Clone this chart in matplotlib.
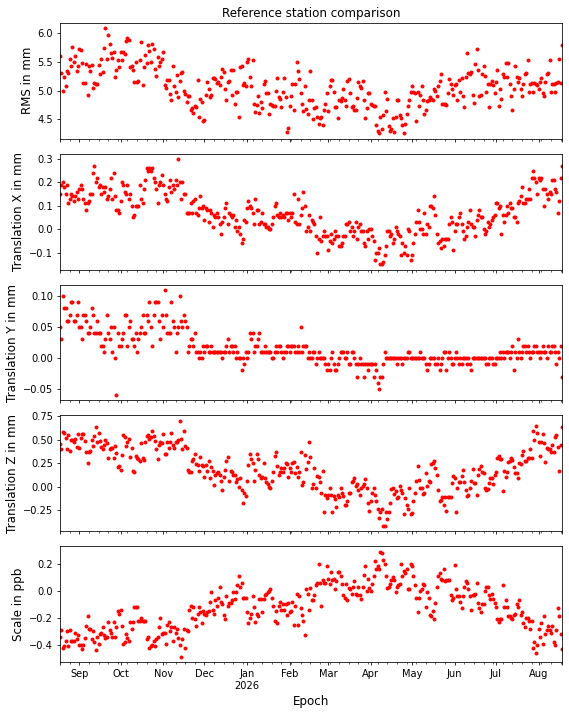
import numpy as np
import pandas as pd
import matplotlib
matplotlib.use('Agg')
import matplotlib.pyplot as plt

# daily values, 2025-08-18 .. 2026-08-18 (one row per month)
rms = [
    5.60, 5.30, 4.99, 5.24, 5.08, 5.34, 5.31, 5.54, 5.42, 5.76, 5.49, 5.59, 5.34, 5.43,
    5.72, 5.70, 5.48, 5.13, 5.13, 5.45, 4.92, 5.42, 5.33, 5.44, 5.04, 5.13, 5.11, 5.12, 5.44, 5.28, 5.55, 5.32, 5.74, 6.08, 5.54, 5.96, 5.80, 5.65, 5.56, 5.66, 5.23, 5.36, 5.52, 5.40,
    5.66, 5.53, 5.66, 5.63, 5.85, 5.90, 5.87, 5.40, 5.43, 5.35, 5.15, 5.49, 5.15, 5.16, 5.52, 5.84, 5.10, 5.40, 5.61, 5.47, 5.78, 5.68, 5.49, 5.80, 5.71, 5.38, 5.25, 5.58, 5.42, 5.49, 5.55,
    5.66, 5.10, 5.05, 5.18, 5.18, 4.94, 4.84, 5.43, 5.08, 4.98, 5.26, 4.89, 5.17, 5.30, 5.32, 5.00, 4.94, 4.80, 4.91, 4.90, 4.67, 4.70, 4.61, 4.73, 4.72, 5.18, 4.55, 4.85, 4.80, 4.48,
    4.49, 4.92, 5.15, 5.03, 4.88, 4.92, 5.22, 5.22, 5.20, 5.13, 5.14, 5.10, 5.23, 5.37, 5.32, 5.03, 4.83, 5.15, 5.16, 5.36, 4.93, 5.35, 4.76, 4.98, 4.97, 4.55, 5.41, 5.42, 5.10, 5.13, 5.08,
    5.50, 5.55, 5.24, 5.08, 5.52, 4.77, 4.63, 4.75, 4.90, 4.62, 4.80, 4.70, 5.12, 5.17, 4.96, 4.95, 4.60, 4.76, 4.75, 4.73, 4.73, 4.99, 5.22, 4.89, 4.85, 4.72, 4.98, 5.22, 4.88, 4.29, 4.36,
    4.74, 4.90, 5.12, 4.67, 5.12, 5.50, 5.33, 5.20, 4.95, 4.76, 4.64, 5.07, 4.68, 4.60, 4.84, 5.33, 4.83, 4.50, 4.70, 4.72, 4.55, 4.42, 4.53, 4.55, 4.40, 4.67, 4.76, 4.95,
    4.64, 5.08, 5.19, 5.19, 4.97, 4.72, 4.72, 4.53, 4.83, 4.82, 4.87, 5.02, 4.84, 4.74, 5.17, 5.20, 4.95, 4.72, 4.74, 4.67, 4.66, 4.87, 5.15, 5.07, 5.05, 5.17, 4.83, 4.52, 4.69, 4.95, 4.95,
    4.76, 4.75, 4.74, 4.73, 4.40, 4.30, 4.26, 4.55, 4.34, 4.57, 4.97, 4.64, 4.86, 4.38, 4.30, 4.33, 4.53, 4.28, 4.55, 4.83, 4.83, 4.58, 4.53, 4.40, 4.26, 4.42, 4.60, 4.73, 4.84, 4.97,
    5.08, 4.97, 4.95, 4.48, 4.97, 4.73, 4.93, 5.07, 4.84, 4.60, 4.66, 4.82, 4.84, 4.88, 4.85, 4.84, 5.02, 5.00, 4.90, 5.08, 5.17, 5.29, 4.76, 4.77, 4.76, 4.75, 4.95, 5.20, 5.12, 5.03, 4.92,
    5.10, 5.11, 4.83, 5.19, 4.98, 5.22, 4.90, 4.72, 5.23, 5.64, 5.31, 5.28, 5.32, 4.92, 4.78, 5.45, 5.72, 5.35, 4.90, 4.93, 5.28, 5.43, 5.25, 4.98, 5.12, 4.72, 5.12, 5.17, 5.10, 4.95,
    5.14, 5.36, 4.74, 5.03, 4.85, 5.29, 5.23, 5.47, 5.24, 5.47, 5.12, 4.90, 4.67, 5.02, 5.43, 5.24, 5.14, 5.22, 5.02, 4.90, 5.12, 5.29, 5.30, 5.53, 4.97, 5.12, 5.13, 4.97, 5.13, 5.12, 5.10,
    5.02, 5.14, 5.22, 4.95, 4.90, 5.14, 5.29, 5.30, 5.53, 4.97, 5.12, 5.12, 4.98, 5.13, 5.14, 5.55, 5.13, 5.79,
]

trans_x = [
    0.15, 0.19, 0.20, 0.18, 0.15, 0.19, 0.11, 0.13, 0.15, 0.14, 0.12, 0.14, 0.16, 0.13,
    0.17, 0.19, 0.17, 0.13, 0.11, 0.08, 0.11, 0.12, 0.15, 0.15, 0.24, 0.27, 0.20, 0.22, 0.18, 0.19, 0.15, 0.18, 0.16, 0.18, 0.13, 0.14, 0.17, 0.22, 0.13, 0.24, 0.14, 0.08, 0.08, 0.07,
    0.12, 0.20, 0.19, 0.16, 0.15, 0.19, 0.13, 0.15, 0.10, 0.05, 0.06, 0.10, 0.10, 0.10, 0.19, 0.13, 0.11, 0.17, 0.21, 0.26, 0.25, 0.26, 0.25, 0.26, 0.22, 0.20, 0.17, 0.11, 0.19, 0.20, 0.23,
    0.19, 0.15, 0.13, 0.12, 0.18, 0.21, 0.16, 0.19, 0.17, 0.21, 0.19, 0.30, 0.20, 0.13, 0.20, 0.15, 0.15, 0.07, 0.07, 0.07, 0.11, 0.07, 0.12, 0.13, 0.07, 0.06, 0.09, 0.14, 0.09, 0.10,
    0.04, 0.09, 0.08, 0.03, 0.08, 0.07, 0.01, 0.06, 0.05, 0.07, 0.05, 0.02, -0.02, 0.03, 0.05, 0.09, 0.11, 0.02, 0.07, 0.06, 0.05, 0.06, 0.01, 0.04, -0.01, 0.01, -0.02, -0.06, -0.04, 0.04, 0.03,
    0.09, 0.12, 0.10, 0.09, 0.07, 0.02, 0.13, 0.08, 0.08, 0.02, 0.03, 0.07, 0.02, 0.02, 0.01, 0.01, 0.00, 0.00, 0.02, 0.05, 0.10, 0.11, 0.06, 0.05, 0.07, 0.05, 0.06, 0.05, 0.07, 0.07, 0.04,
    0.07, 0.05, 0.07, 0.15, 0.03, 0.02, 0.13, 0.02, 0.06, 0.09, 0.16, 0.10, -0.01, 0.01, 0.06, -0.01, 0.04, 0.03, 0.02, -0.03, -0.10, -0.04, 0.05, -0.05, -0.03, -0.01, -0.03, -0.03,
    -0.09, -0.05, -0.02, -0.06, -0.04, -0.01, -0.03, -0.03, -0.07, -0.07, -0.06, -0.03, -0.03, 0.02, 0.02, 0.03, -0.01, 0.01, -0.03, -0.01, 0.03, -0.04, 0.01, 0.02, -0.01, -0.01, -0.06, -0.07, -0.01, -0.04, 0.00,
    0.00, -0.03, -0.05, -0.13, -0.10, -0.10, -0.08, -0.15, -0.15, -0.14, -0.11, -0.07, -0.01, -0.01, -0.03, -0.02, -0.06, -0.04, 0.01, -0.01, -0.02, -0.03, -0.11, -0.06, -0.10, -0.07, -0.11, 0.00, -0.01, -0.13,
    -0.11, -0.06, -0.02, 0.03, 0.08, 0.03, 0.00, 0.00, -0.02, 0.07, -0.02, 0.02, 0.01, 0.10, 0.10, 0.09, 0.14, 0.06, -0.02, -0.06, -0.05, -0.08, -0.04, -0.07, -0.04, -0.04, -0.04, 0.02, 0.05, 0.03, -0.09,
    -0.01, 0.02, 0.02, 0.05, 0.07, 0.02, -0.01, -0.04, -0.03, 0.01, 0.03, 0.08, 0.02, 0.01, 0.01, -0.03, 0.04, 0.06, 0.08, 0.05, 0.05, 0.00, -0.02, -0.01, 0.03, 0.01, 0.02, 0.04, 0.05, 0.06,
    0.11, 0.11, 0.09, 0.10, -0.02, 0.06, 0.03, 0.06, 0.10, 0.07, 0.11, 0.09, 0.09, 0.05, 0.05, 0.03, 0.11, 0.12, 0.14, 0.18, 0.11, 0.11, 0.13, 0.13, 0.17, 0.13, 0.22, 0.25, 0.22, 0.20, 0.15,
    0.22, 0.21, 0.22, 0.17, 0.10, 0.17, 0.15, 0.13, 0.16, 0.15, 0.21, 0.21, 0.17, 0.16, 0.07, 0.12, 0.22, 0.27,
]

trans_y = [
    0.05, 0.03, 0.10, 0.08, 0.08, 0.06, 0.06, 0.07, 0.09, 0.09, 0.06, 0.06, 0.07, 0.09,
    0.05, 0.05, 0.03, 0.07, 0.07, 0.06, 0.04, 0.04, 0.05, 0.08, 0.07, 0.04, 0.04, 0.06, 0.04, 0.04, 0.02, 0.02, 0.01, 0.03, 0.07, 0.04, 0.03, 0.05, 0.01, 0.05, 0.00, -0.06, 0.04, 0.02,
    0.02, 0.03, 0.04, 0.07, 0.07, 0.02, 0.05, 0.06, 0.03, 0.03, 0.02, 0.04, 0.01, 0.03, 0.04, 0.05, 0.07, 0.04, 0.04, 0.07, 0.06, 0.09, 0.05, 0.02, 0.07, 0.09, 0.09, 0.09, 0.06, 0.03, 0.07,
    0.05, 0.11, 0.07, 0.04, 0.04, 0.04, 0.09, 0.06, 0.05, 0.01, 0.04, 0.05, 0.10, 0.06, 0.05, 0.07, 0.06, 0.05, 0.01, 0.02, 0.03, 0.03, 0.02, 0.04, 0.01, 0.01, 0.00, 0.01, 0.00, 0.02,
    0.01, 0.02, 0.02, 0.01, 0.01, 0.02, 0.01, 0.01, 0.01, 0.01, 0.01, 0.01, 0.01, 0.00, 0.01, 0.01, 0.02, 0.03, 0.01, 0.02, 0.02, 0.01, 0.02, 0.00, 0.01, 0.00, 0.00, -0.02, 0.00, -0.01, 0.01,
    0.00, 0.01, 0.04, 0.03, 0.04, 0.01, 0.02, 0.02, 0.03, 0.04, 0.01, 0.01, 0.01, 0.02, 0.01, 0.01, 0.01, 0.01, 0.00, 0.00, 0.01, 0.02, 0.01, 0.02, 0.02, 0.01, 0.00, 0.01, 0.01, 0.02, 0.02,
    0.01, 0.02, 0.02, 0.02, 0.01, 0.01, 0.02, 0.01, 0.05, 0.01, 0.02, 0.02, 0.02, 0.00, 0.01, 0.00, 0.00, 0.01, 0.01, -0.01, 0.00, 0.01, 0.00, 0.00, 0.00, 0.00, -0.01, -0.02,
    -0.01, -0.02, 0.00, 0.01, -0.01, -0.02, -0.02, -0.01, 0.00, 0.01, 0.01, 0.01, 0.00, 0.00, 0.01, -0.01, -0.01, 0.01, 0.01, 0.00, -0.01, -0.03, -0.01, 0.00, -0.01, -0.01, -0.03, -0.01, -0.01, -0.02, -0.01,
    -0.01, -0.01, -0.03, -0.01, -0.02, -0.04, -0.05, -0.03, -0.03, -0.01, 0.01, 0.00, 0.00, 0.00, 0.00, 0.00, 0.00, 0.00, 0.00, -0.01, 0.00, 0.00, 0.00, -0.01, 0.00, 0.00, 0.00, 0.01, 0.01, 0.00,
    0.00, 0.00, 0.00, 0.00, 0.00, 0.00, 0.01, 0.00, 0.00, 0.00, -0.01, -0.02, -0.01, 0.00, 0.00, 0.00, 0.00, -0.01, -0.01, 0.00, -0.02, -0.01, 0.00, 0.01, 0.01, -0.02, 0.00, 0.01, 0.00, -0.01, -0.01,
    0.00, 0.01, 0.00, -0.01, 0.00, -0.01, 0.00, 0.00, 0.00, -0.01, 0.00, -0.01, -0.02, 0.00, 0.00, 0.00, 0.00, 0.00, 0.00, 0.00, 0.00, 0.00, 0.00, -0.01, -0.01, 0.00, 0.00, 0.00, -0.01, -0.01,
    0.00, 0.00, 0.00, 0.01, 0.00, 0.01, 0.00, 0.01, 0.01, 0.01, 0.00, 0.01, 0.02, -0.02, 0.01, 0.00, 0.03, 0.01, 0.00, 0.01, 0.02, 0.02, 0.01, 0.02, 0.01, 0.00, 0.01, 0.01, 0.02, 0.02, 0.01,
    0.01, 0.00, 0.01, 0.02, 0.01, 0.01, 0.00, 0.02, 0.01, 0.01, 0.02, 0.02, 0.01, -0.01, 0.01, 0.00, 0.02, -0.03,
]

trans_z = [
    0.45, 0.40, 0.58, 0.57, 0.52, 0.40, 0.55, 0.38, 0.50, 0.50, 0.47, 0.51, 0.42, 0.56,
    0.41, 0.52, 0.56, 0.56, 0.48, 0.37, 0.25, 0.37, 0.38, 0.50, 0.43, 0.54, 0.63, 0.47, 0.57, 0.48, 0.42, 0.40, 0.44, 0.49, 0.46, 0.30, 0.40, 0.41, 0.41, 0.30, 0.43, 0.36, 0.21, 0.22,
    0.18, 0.34, 0.55, 0.53, 0.43, 0.47, 0.51, 0.31, 0.41, 0.17, 0.16, 0.32, 0.30, 0.29, 0.27, 0.46, 0.30, 0.28, 0.47, 0.54, 0.55, 0.51, 0.53, 0.59, 0.54, 0.48, 0.40, 0.29, 0.44, 0.47, 0.46,
    0.56, 0.35, 0.35, 0.47, 0.41, 0.47, 0.57, 0.44, 0.41, 0.47, 0.47, 0.49, 0.70, 0.51, 0.40, 0.59, 0.43, 0.41, 0.18, 0.16, 0.16, 0.27, 0.29, 0.35, 0.24, 0.23, 0.17, 0.31, 0.23, 0.22,
    0.10, 0.23, 0.17, 0.27, 0.09, 0.21, 0.17, 0.02, 0.12, 0.14, 0.16, 0.12, 0.06, -0.04, 0.10, 0.18, 0.27, 0.31, 0.06, 0.17, 0.15, 0.12, 0.12, 0.05, 0.08, 0.00, 0.09, -0.04, -0.17, -0.07, -0.10,
    0.06, 0.23, 0.35, 0.29, 0.25, 0.06, 0.18, 0.35, 0.29, 0.12, 0.09, 0.10, 0.25, 0.09, 0.05, 0.03, 0.00, -0.01, 0.06, 0.16, 0.33, 0.37, 0.22, 0.12, 0.15, 0.20, 0.15, 0.20, 0.25, 0.24, 0.10,
    0.20, 0.15, 0.25, 0.26, 0.14, 0.21, 0.10, 0.16, 0.37, 0.02, 0.05, 0.34, 0.19, 0.26, 0.47, 0.31, -0.02, 0.03, 0.20, -0.02, 0.11, 0.10, 0.05, -0.07, 0.17, -0.27, -0.09, -0.12,
    -0.09, -0.02, -0.09, -0.27, -0.10, -0.13, -0.22, -0.09, -0.11, -0.02, -0.07, -0.10, -0.20, -0.20, -0.15, -0.07, -0.07, 0.05, 0.06, 0.09, 0.01, 0.03, -0.04, -0.09, -0.02, 0.01, 0.03, 0.08, -0.01, -0.17, -0.26,
    -0.15, -0.07, -0.01, -0.09, -0.15, -0.24, -0.33, -0.27, -0.24, -0.42, -0.42, -0.27, -0.34, -0.27, -0.17, -0.03, -0.02, -0.08, -0.05, -0.12, -0.11, 0.01, -0.04, -0.07, -0.29, -0.12, -0.20, -0.24, -0.02, -0.29,
    -0.28, -0.15, -0.07, 0.06, 0.22, 0.07, -0.02, -0.02, -0.08, -0.07, 0.14, 0.01, 0.06, 0.05, 0.24, 0.25, 0.27, 0.20, 0.12, -0.04, -0.15, -0.14, -0.11, -0.20, -0.11, -0.26, -0.11, -0.11, -0.11, 0.04, 0.11,
    0.09, -0.27, -0.02, 0.05, 0.05, 0.11, 0.18, 0.05, -0.04, -0.10, -0.09, -0.02, 0.06, 0.19, 0.04, 0.04, -0.09, 0.12, 0.19, 0.22, 0.15, 0.14, -0.01, -0.04, -0.03, 0.04, 0.09, 0.09, 0.03, 0.12,
    0.15, 0.30, 0.33, 0.29, 0.29, -0.05, 0.17, 0.10, 0.16, 0.26, 0.27, 0.30, 0.28, 0.21, 0.14, 0.14, 0.09, 0.25, 0.24, 0.34, 0.38, 0.27, 0.27, 0.30, 0.30, 0.40, 0.30, 0.59, 0.50, 0.64, 0.57,
    0.47, 0.33, 0.47, 0.56, 0.46, 0.26, 0.41, 0.40, 0.40, 0.37, 0.44, 0.37, 0.53, 0.55, 0.42, 0.17, 0.44, 0.63,
]

scale = [
    -0.34, -0.29, -0.42, -0.41, -0.37, -0.30, -0.41, -0.29, -0.37, -0.37, -0.37, -0.31, -0.36, -0.33,
    -0.40, -0.40, -0.43, -0.40, -0.35, -0.26, -0.19, -0.28, -0.28, -0.36, -0.30, -0.38, -0.44, -0.34, -0.39, -0.32, -0.31, -0.27, -0.33, -0.35, -0.34, -0.23, -0.29, -0.31, -0.34, -0.23, -0.34, -0.27, -0.15, -0.17,
    -0.14, -0.26, -0.39, -0.38, -0.32, -0.35, -0.37, -0.23, -0.28, -0.23, -0.12, -0.12, -0.12, -0.22, -0.22, -0.20, -0.22, -0.22, -0.22, -0.36, -0.34, -0.42, -0.41, -0.40, -0.37, -0.41, -0.36, -0.34, -0.27, -0.20, -0.32,
    -0.31, -0.31, -0.39, -0.25, -0.23, -0.30, -0.27, -0.37, -0.27, -0.31, -0.28, -0.35, -0.40, -0.49, -0.36, -0.28, -0.42, -0.29, -0.30, -0.14, -0.11, -0.20, -0.12, -0.21, -0.26, -0.17, -0.12, -0.16, -0.24, -0.15,
    -0.17, -0.18, -0.16, -0.15, -0.08, -0.01, -0.14, -0.17, -0.07, -0.11, -0.05, 0.03, -0.08, -0.10, -0.18, -0.21, -0.04, -0.11, -0.09, -0.09, -0.07, -0.01, -0.06, -0.01, 0.04, 0.11, 0.03, 0.06, -0.05, -0.05, -0.05,
    -0.16, -0.24, -0.20, -0.17, -0.04, -0.12, -0.23, -0.17, -0.19, -0.06, -0.06, -0.16, -0.06, -0.03, -0.02, -0.01, 0.00, 0.01, -0.05, -0.11, -0.22, -0.15, -0.24, -0.11, -0.08, -0.14, -0.10, -0.14, -0.10, -0.18, -0.09,
    -0.16, -0.15, -0.08, -0.25, -0.11, -0.02, -0.25, -0.04, -0.13, -0.18, -0.22, -0.33, 0.01, -0.02, -0.14, 0.02, -0.07, -0.07, -0.03, 0.04, 0.06, 0.20, 0.06, -0.11, 0.08, 0.06, 0.06, 0.18,
    0.09, 0.05, 0.14, 0.08, 0.09, 0.01, 0.07, 0.14, 0.14, 0.11, 0.05, -0.03, -0.05, 0.05, -0.07, 0.02, 0.01, -0.02, 0.03, 0.07, -0.02, -0.03, 0.03, -0.03, -0.06, 0.03, 0.12, 0.18, 0.00, 0.09, 0.02,
    0.00, 0.05, 0.11, 0.22, 0.16, 0.18, 0.16, 0.29, 0.28, 0.23, 0.20, 0.11, 0.02, 0.03, 0.05, 0.08, 0.10, 0.08, -0.01, 0.03, 0.04, 0.05, 0.20, 0.11, 0.15, 0.13, 0.16, 0.01, 0.01, 0.20,
    0.18, 0.11, 0.04, -0.05, -0.16, -0.05, 0.00, 0.01, 0.05, 0.04, -0.12, -0.01, -0.05, -0.18, -0.19, -0.15, -0.21, -0.09, 0.03, 0.11, 0.13, 0.09, 0.08, 0.16, 0.07, 0.08, 0.08, 0.08, -0.03, -0.07, -0.05,
    0.19, 0.01, -0.04, -0.04, -0.08, -0.13, -0.04, 0.03, 0.07, 0.06, 0.01, -0.04, -0.14, -0.03, -0.03, -0.02, 0.06, -0.09, -0.13, -0.16, -0.10, -0.10, 0.00, 0.03, 0.03, -0.03, -0.06, -0.02, -0.06, -0.09,
    -0.12, -0.21, -0.23, -0.21, -0.21, 0.04, -0.12, -0.07, -0.12, -0.19, -0.19, -0.20, -0.21, -0.18, -0.17, -0.10, -0.12, -0.07, -0.18, -0.16, -0.24, -0.27, -0.20, -0.20, -0.22, -0.28, -0.22, -0.42, -0.38, -0.46, -0.40,
    -0.28, -0.34, -0.24, -0.39, -0.19, -0.32, -0.29, -0.26, -0.29, -0.31, -0.26, -0.38, -0.40, -0.29, -0.13, -0.19, -0.32, -0.43,
]

labels = ['RMS in mm', 'Translation X in mm', 'Translation Y in mm',
          'Translation Z in mm', 'Scale in ppb']

epoch = pd.date_range('2025-08-18', periods=len(rms), freq='D', name='Epoch')
df = pd.DataFrame({'rms': rms, 'tx': trans_x, 'ty': trans_y, 'tz': trans_z,
                   'scale': scale}, index=epoch)

plt.rcParams['axes.labelsize'] = 12

# ~8 x 10 inch figure at low dpi -> 569x713 px
dpi = 71.125
W, H = 569, 713
axes = df.plot(subplots=True, style='r.', legend=False,
               figsize=(W / dpi, H / dpi))
for ax, lab in zip(axes, labels):
    ax.set_ylabel(lab)
axes[0].set_title('Reference station comparison')
axes[-1].set_xlabel('Epoch')

fig = axes[0].figure
fig.subplots_adjust(left=60 / W, right=562 / W, top=1 - 22.7 / H,
                    bottom=1 - 662.3 / H, hspace=0.129)
fig.savefig('out.png', dpi=dpi)
